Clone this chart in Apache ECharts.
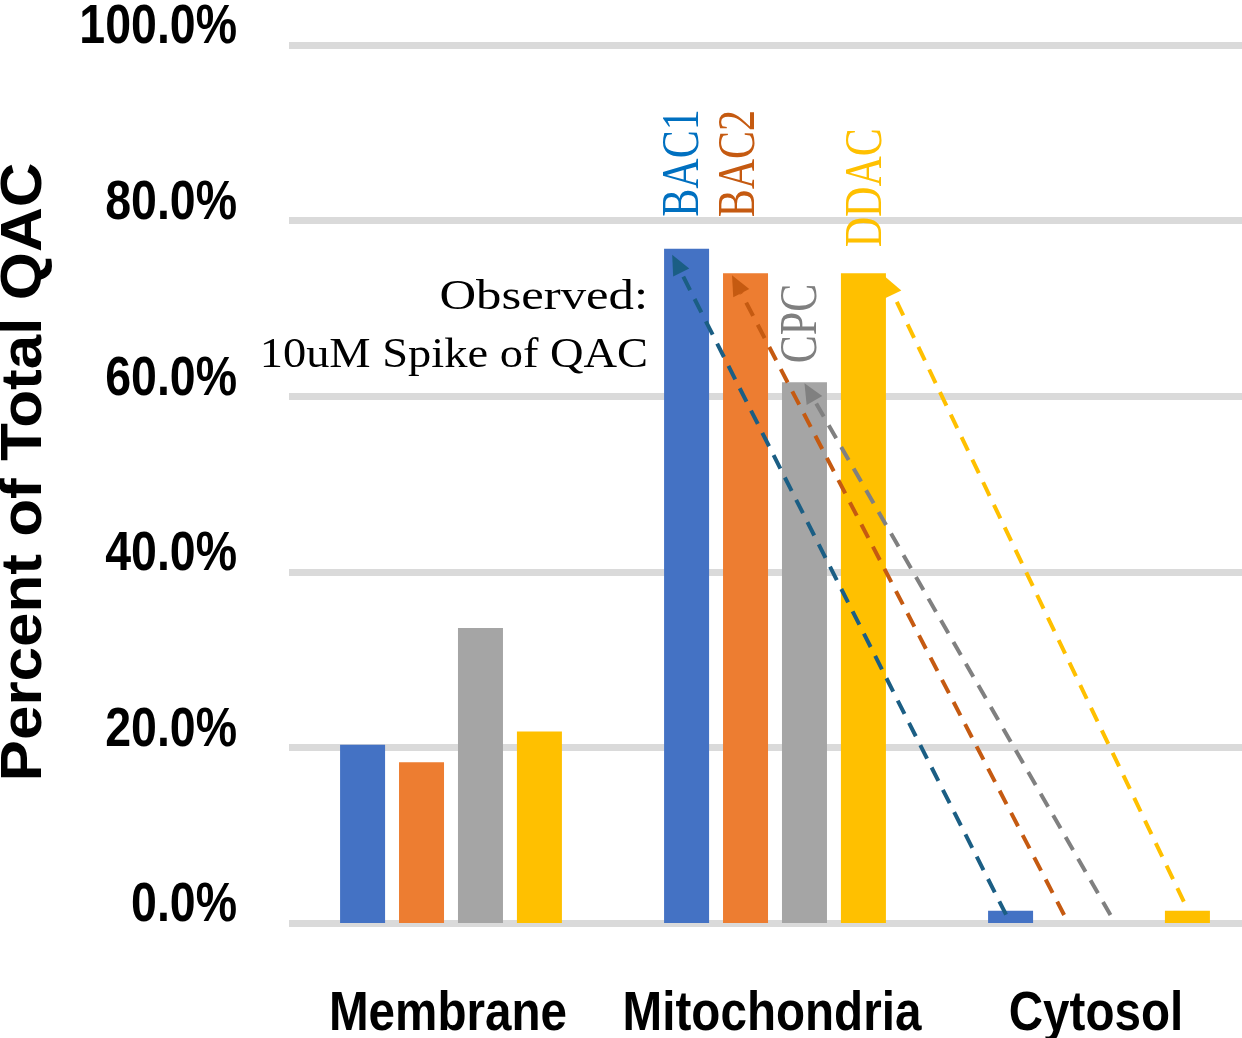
<!DOCTYPE html>
<html>
<head>
<meta charset="utf-8">
<script src="https://cdn.jsdelivr.net/npm/echarts@6/dist/echarts.min.js"></script>
<style>
  html, body { margin: 0; padding: 0; background: #fff; }
  #chart { width: 1242px; height: 1038px; }
</style>
</head>
<body>
<div id="chart"></div>
<script>
// Distribution of QAC compounds across cell fractions (percent of total)
const categories = ['Membrane', 'Mitochondria', 'Cytosol'];
const seriesNames = ['BAC1', 'BAC2', 'CPC', 'DDAC'];
const bac1 = [20.3, 76.8, 1.4];
const bac2 = [18.3, 74.0, 0.0];
const cpc  = [33.6, 61.6, 0.0];
const ddac = [21.8, 74.0, 1.4];
const yTicks = [0, 20, 40, 60, 80, 100];

const barColors   = ['#4472C4', '#ED7D31', '#A5A5A5', '#FFC000'];
const labelColors = ['#0070C0', '#C55A11', '#7F7F7F', '#FFC000'];
const arrowColors = ['#1B5E84', '#C55A11', '#808080', '#FFC000'];

const SANS = '"Liberation Sans", Arial, sans-serif';
const SERIF = '"Liberation Serif", "Times New Roman", serif';

const chart = echarts.init(document.getElementById('chart'), null, { renderer: 'canvas' });

const values = [bac1, bac2, cpc, ddac];

chart.setOption({
  animation: false,
  backgroundColor: '#ffffff',
  grid: {
    left: 289, top: 45, width: 972, height: 878,
    containLabel: false, outerBoundsMode: 'none'
  },
  xAxis: {
    type: 'category',
    data: categories,
    axisLine: { show: false },
    axisTick: { show: false },
    axisLabel: { show: false }
  },
  yAxis: {
    type: 'value',
    min: 0,
    max: 100,
    interval: 20,
    axisLine: { show: false },
    axisTick: { show: false },
    splitLine: { show: true, lineStyle: { color: '#DADADA', width: 7 } },
    axisLabel: { show: false }
  },
  series: seriesNames.map((name, i) => ({
    name,
    type: 'bar',
    data: values[i],
    barWidth: 45,
    barGap: '31%',
    itemStyle: { color: barColors[i] },
    silent: true
  }))
});

// Pixel rectangle of a drawn bar, taken from the series layout
function barRect(s, d) {
  const lay = chart.getModel().getSeriesByIndex(s).getData().getItemLayout(d);
  const top = Math.min(lay.y, lay.y + lay.height);
  return { x: lay.x, w: lay.width, top, cx: lay.x + lay.width / 2 };
}

function textEl(opts, style) {
  return Object.assign({ type: 'text', silent: true, z: 100 }, opts, {
    style: Object.assign({
      textAlign: style.align, textVerticalAlign: style.verticalAlign
    }, style)
  });
}

const graphics = [];

// Tick labels of the value axis (condensed bold)
yTicks.forEach(v => {
  const py = chart.convertToPixel({ yAxisIndex: 0 }, v);
  graphics.push(textEl({ x: 237, y: py - 17, scaleX: 0.83 }, {
    text: v.toFixed(1) + '%', fill: '#000', font: 'bold 56px ' + SANS,
    align: 'right', verticalAlign: 'middle'
  }));
});

// Category labels
categories.forEach(c => {
  const px = chart.convertToPixel({ xAxisIndex: 0 }, c);
  graphics.push(textEl({ x: px - 3, y: 1015, scaleX: 0.85 }, {
    text: c, fill: '#000', font: 'bold 56px ' + SANS,
    align: 'center', verticalAlign: 'middle'
  }));
});

// Rotated compound names above the mitochondria bars
const nameGaps = [32, 56, 19, 26];
const nameShift = [-2, -5, -2, 4];
seriesNames.forEach((name, i) => {
  const r = barRect(i, 1);
  graphics.push(textEl({
    x: r.cx + nameShift[i], y: r.top - nameGaps[i],
    rotation: Math.PI / 2, scaleY: 1.25
  }, {
    text: name, fill: labelColors[i], font: '42px ' + SERIF,
    align: 'left', verticalAlign: 'middle'
  }));
});

// Dashed arrows: from each cytosol bar up to the matching mitochondria bar
const arrowAnchors = [
  { tail: [0.40, 4], head: [0.18, 6] },
  { tail: [0.38, -8], head: [0.20, 2] },
  { tail: [0.10, -8], head: [0.50, 1] },
  { tail: [0.42, -9], head: [0.97, 3] }
];
arrowAnchors.forEach((a, i) => {
  const rt = barRect(i, 2);
  const rh = barRect(i, 1);
  const x1 = rt.x + rt.w * a.tail[0], y1 = rt.top + a.tail[1];
  const x2 = rh.x + rh.w * a.head[0], y2 = rh.top + a.head[1];
  const len = Math.hypot(x2 - x1, y2 - y1);
  const ux = (x2 - x1) / len, uy = (y2 - y1) / len;
  const hl = 20, hw = 9;
  const bx = x2 - ux * hl, by = y2 - uy * hl;
  graphics.push({
    type: 'line', silent: true, z: 100,
    shape: { x1, y1, x2: bx, y2: by },
    style: { stroke: arrowColors[i], lineWidth: 4, lineDash: [15, 10] }
  });
  graphics.push({
    type: 'polygon', silent: true, z: 100,
    shape: { points: [[x2, y2], [bx - uy * hw, by + ux * hw], [bx + uy * hw, by - ux * hw]] },
    style: { fill: arrowColors[i] }
  });
});

// Annotation text
graphics.push(textEl({ x: 648, y: 298, scaleX: 1.18 }, {
  text: 'Observed:', fill: '#000', font: '43px ' + SERIF,
  align: 'right', verticalAlign: 'middle'
}));
graphics.push(textEl({ x: 648, y: 356, scaleX: 1.08 }, {
  text: '10uM Spike of QAC', fill: '#000', font: '43px ' + SERIF,
  align: 'right', verticalAlign: 'middle'
}));

// Value axis title
graphics.push(textEl({ x: 25, y: 472, rotation: Math.PI / 2, scaleY: 0.92 }, {
  text: 'Percent of Total QAC', fill: '#000', font: 'bold 62px ' + SANS,
  align: 'center', verticalAlign: 'middle'
}));

chart.setOption({ graphic: { elements: graphics } });
</script>
</body>
</html>
